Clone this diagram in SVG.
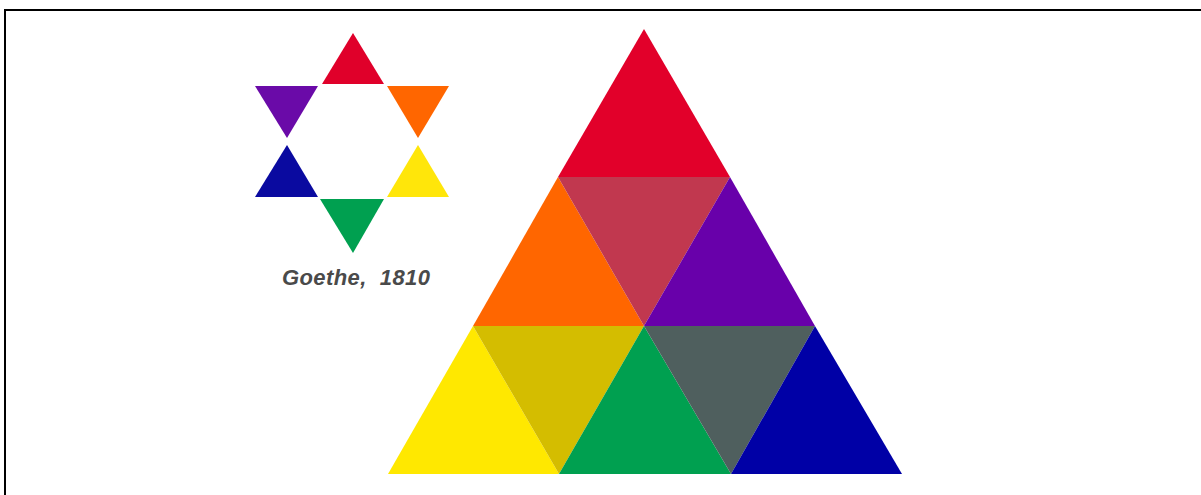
<svg xmlns="http://www.w3.org/2000/svg" width="1201" height="495" viewBox="0 0 1201 495">
<style>
.lbl{font-family:"Liberation Sans",Arial,sans-serif;font-style:italic;font-weight:bold;font-size:22px;fill:#4a4a4a}
</style>
<rect x="0" y="0" width="1201" height="495" fill="#ffffff"/>
<path d="M5,495 V10 H1201" fill="none" stroke="#000" stroke-width="2"/>
<g id="star">
<polygon id="s-red" points="353,33 322,84 384,84" fill="#e0002a"/>
<polygon id="s-purple" points="255,86 318,86 287,138" fill="#6a0aa8"/>
<polygon id="s-orange" points="387,86 449,86 418,138" fill="#ff6600"/>
<polygon id="s-blue" points="287,145 255,197 318,197" fill="#0a0aa0"/>
<polygon id="s-yellow" points="418,145 387,197 449,197" fill="#ffe60a"/>
<polygon id="s-green" points="320,199 384,199 353,253" fill="#00a050"/>
</g>
<g id="caption"><text class="lbl" x="282" y="285" textLength="148" lengthAdjust="spacing" xml:space="preserve">Goethe,  1810</text></g>
<g id="triangle">
<polygon id="t-red" points="644,29 558,177 730,177" fill="#e2002a"/>
<polygon id="t-orange" points="558,177 473,326 644,326" fill="#ff6600"/>
<polygon id="t-rose" points="558,177 730,177 644,326" fill="#c1384f"/>
<polygon id="t-purple" points="730,177 644,326 815,326" fill="#6800aa"/>
<polygon id="t-yellow" points="473,326 388,474 559,474" fill="#ffe800"/>
<polygon id="t-olive" points="473,326 644,326 559,474" fill="#d4bd00"/>
<polygon id="t-green" points="644,326 559,474 731,474" fill="#00a050"/>
<polygon id="t-gray" points="644,326 815,326 731,474" fill="#4f5f5e"/>
<polygon id="t-blue" points="815,326 731,474 902,474" fill="#0000a6"/>
</g>
</svg>
